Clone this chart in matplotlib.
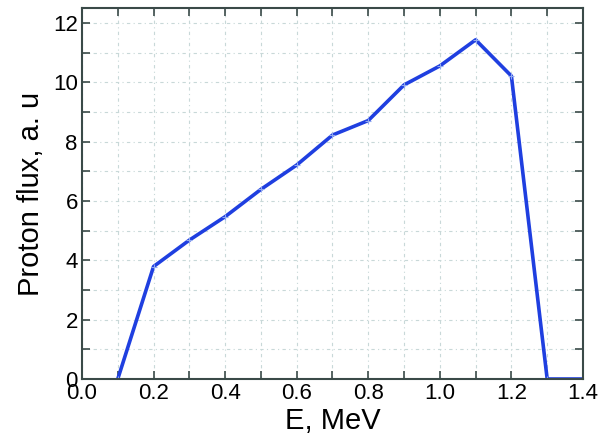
import matplotlib
matplotlib.use("Agg")
import matplotlib.pyplot as plt
from matplotlib.ticker import MultipleLocator

energy = [0.1, 0.2, 0.3, 0.4, 0.5, 0.6, 0.7, 0.8, 0.9, 1.0, 1.1, 1.2, 1.3, 1.4]
flux = [0.0, 3.79, 4.68, 5.47, 6.39, 7.21, 8.22, 8.71, 9.91, 10.55, 11.43, 10.21, 0.0, 0.0]

plt.rcParams['font.family'] = ['Liberation Sans', 'DejaVu Sans']

fig = plt.figure(figsize=(6.01, 4.48), dpi=100)
ax = fig.add_axes([0.1364, 0.154, 0.8336, 0.828])
ax.plot(energy, flux, color='#1f3fe0', lw=2.6, marker='+', ms=4, mew=0.8, mec='#8fa8f0')
ax.set_xlim(0, 1.4)
ax.set_ylim(0, 12.5)
ax.xaxis.set_major_locator(MultipleLocator(0.2))
ax.xaxis.set_minor_locator(MultipleLocator(0.1))
ax.yaxis.set_major_locator(MultipleLocator(2))
ax.yaxis.set_minor_locator(MultipleLocator(1))
ax.xaxis.set_major_formatter(matplotlib.ticker.FormatStrFormatter('%.1f'))
ax.grid(True, which='both', ls=(0, (3, 3, 1, 3)), color='#c8d8d8', lw=0.8)
ax.tick_params(which='both', direction='in', top=True, right=True, color='#3a4a48',
               labelsize=16, pad=3)
ax.tick_params(which='major', length=6, width=1.2)
ax.tick_params(which='minor', length=6, width=1.2)
for s in ax.spines.values():
    s.set_color('#3a4a48')
    s.set_linewidth(1.5)
ax.set_xlabel('E, MeV', fontsize=21, labelpad=2)
ax.set_ylabel('Proton flux, a. u', fontsize=21, labelpad=6)
fig.savefig('out.png', dpi=100)
